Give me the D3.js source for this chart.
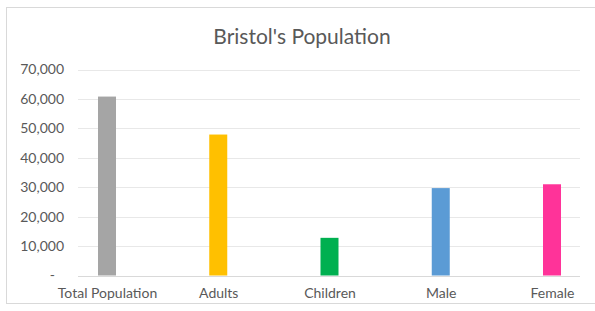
<!DOCTYPE html>
<html>
<head>
<meta charset="utf-8">
<script src="https://cdn.jsdelivr.net/npm/d3@7"></script>
<style>
	body { margin: 0; background: #fff; }
	text { font-family: Lato, "Open Sans", sans-serif; fill: #595959; }
</style>
</head>
<body>
<div id="graph"></div>
<script>
const svgWidth = 595;
const svgHeight = 311;

const title = "Bristol's Population";
const categories = ["Total Population", "Adults", "Children", "Male", "Female"];
const values = [60800, 47900, 12800, 29700, 31000];
const barColors = ["#a5a5a5", "#ffc000", "#00b050", "#5b9bd5", "#ff3399"];
const yTicks = [0, 10000, 20000, 30000, 40000, 50000, 60000, 70000];

const svg = d3.select('#graph').append('svg')
	.attr('width', svgWidth)
	.attr('height', svgHeight);

// chart frame (right edge is cut off in the picture)
svg.append('rect')
	.attr('x', 6.5)
	.attr('y', 7.5)
	.attr('width', 620)
	.attr('height', 296)
	.attr('fill', 'none')
	.attr('stroke', '#d9d9d9');

const yScale = d3.scaleLinear()
	.domain([0, 70000])
	.range([275.5, 69.5]);

const xScale = d3.scalePoint()
	.domain(categories)
	.range([107, 552]);

const gridLeft = 78;
const gridRight = 580;

// gridlines
svg.append('g')
	.selectAll('line')
	.data(yTicks)
	.enter()
	.append('line')
	.attr('x1', gridLeft)
	.attr('x2', gridRight)
	.attr('y1', d => Math.round(yScale(d)) + 0.5)
	.attr('y2', d => Math.round(yScale(d)) + 0.5)
	.attr('stroke', d => d === 0 ? '#d9d9d9' : '#e8e8e8');

const yAxis = d3.axisLeft(yScale)
	.tickValues(yTicks)
	.tickSize(0)
	.tickPadding(0)
	.tickFormat(d => d === 0 ? '-' : d3.format(',')(d));

svg.append('g')
	.attr('transform', 'translate(64, 0)')
	.call(yAxis)
	.call(g => g.select('.domain').remove())
	.selectAll('text')
	.style('font-size', '14px')
	.attr('fill', '#595959')
	.attr('dx', d => d === 0 ? -9 : 0);

const barWidth = 18;

svg.append('g')
	.selectAll('rect')
	.data(values)
	.enter()
	.append('rect')
	.attr('x', (d, i) => xScale(categories[i]) - barWidth / 2)
	.attr('y', d => yScale(d))
	.attr('width', barWidth)
	.attr('height', d => yScale(0) - yScale(d))
	.attr('fill', (d, i) => barColors[i]);

const xAxis = d3.axisBottom(xScale)
	.tickSize(0)
	.tickPadding(0);

svg.append('g')
	.attr('transform', 'translate(0, 288)')
	.call(xAxis)
	.call(g => g.select('.domain').remove())
	.selectAll('text')
	.style('font-size', '14px')
	.attr('fill', '#595959');

svg.append('text')
	.attr('x', 302)
	.attr('y', 44)
	.attr('text-anchor', 'middle')
	.style('font-size', '21px')
	.text(title);
</script>
</body>
</html>
